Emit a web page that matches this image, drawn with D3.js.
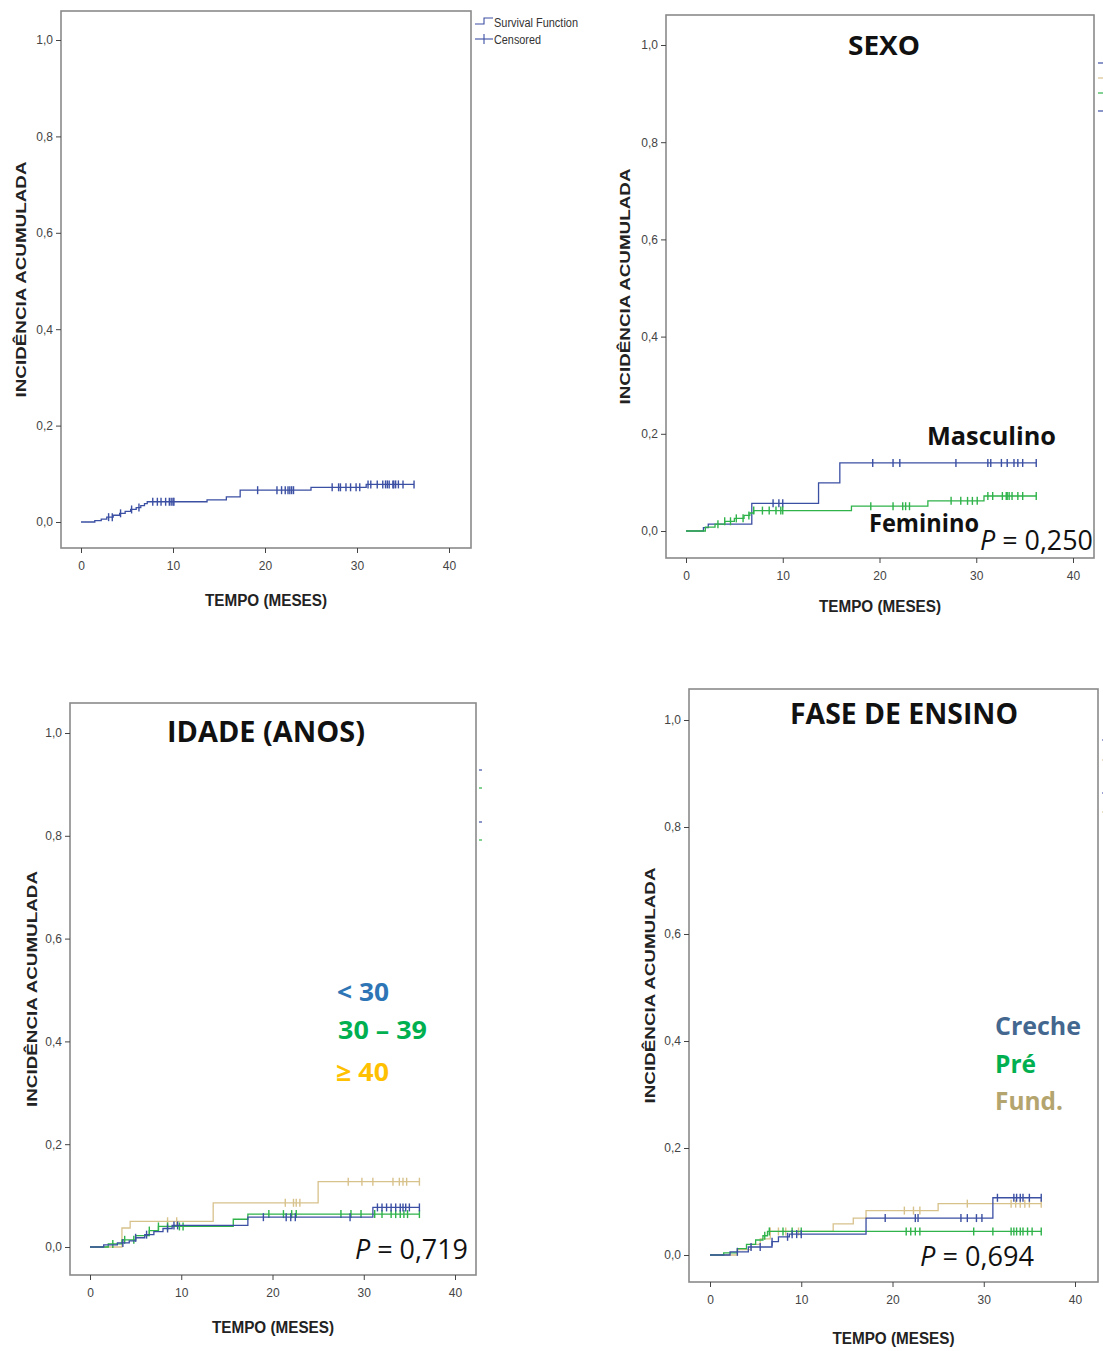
<!DOCTYPE html>
<html>
<head>
<meta charset="utf-8">
<script src="https://cdn.jsdelivr.net/npm/d3@7"></script>
<style>
  body { margin: 0; background: white; }
</style>
</head>
<body>
<div id="container"></div>
<script>
// ---- data ----
let xTicks = [0, 10, 20, 30, 40];
let yTicks = [0, 0.2, 0.4, 0.6, 0.8, 1.0];

// overall curve
let allSteps = [[0,0],[1.5,0.003],[2.2,0.006],[2.8,0.010],[3.5,0.014],[4.2,0.018],[4.8,0.022],[5.4,0.026],[6.0,0.030],[6.5,0.034],[6.9,0.038],[7.2,0.042],[13.7,0.046],[15.8,0.052],[17.3,0.066],[25.0,0.072],[31.0,0.078]];
let allEnd = 36.2;
let allCens = [3.0,3.4,4.3,5.5,6.3,7.8,8.3,8.7,9.2,9.6,9.8,10.0,10.1,19.2,21.3,21.8,22.2,22.5,22.7,22.9,23.1,27.3,28.0,28.2,28.8,29.3,29.9,30.3,31.2,31.5,32.2,32.8,33.1,33.3,33.5,33.9,34.0,34.2,34.5,35.0,36.2];

// sexo
let mascSteps = [[0,0],[1.8,0.007],[2.3,0.014],[6.8,0.057],[13.7,0.099],[15.9,0.140]];
let mascCens = [9.0,9.6,10.0,19.3,21.4,22.1,27.9,31.2,31.5,32.6,33.2,33.9,34.3,34.8,36.2];
let femSteps = [[0,0],[2.0,0.008],[3.0,0.014],[4.0,0.020],[5.0,0.026],[6.0,0.032],[6.6,0.037],[7.0,0.042],[17.1,0.051],[25.0,0.062],[30.8,0.072]];
let femCens = [3.3,4.0,4.6,5.2,5.9,6.5,7.0,7.9,8.6,9.3,9.8,10.0,19.1,21.4,22.4,22.7,23.1,27.4,28.4,29.1,29.6,30.1,31.2,31.7,32.7,33.1,33.2,33.4,33.7,34.3,34.8,36.2];
let sexoEnd = 36.2;

// idade
let ageLt30Steps = [[0,0],[1.5,0.004],[3.0,0.008],[4.3,0.012],[5.0,0.018],[6.0,0.024],[7.0,0.030],[8.0,0.036],[9.0,0.042],[17.3,0.058],[31.0,0.077]];
let ageLt30Cens = [3.6,5.0,6.2,8.5,9.2,9.6,19.0,21.5,22.0,22.5,28.5,31.5,32.0,32.5,33.0,33.5,34.0,34.3,34.6,35.0,36.1];
let age3039Steps = [[0,0],[2.0,0.006],[3.5,0.014],[5.0,0.022],[6.5,0.032],[7.5,0.040],[15.7,0.054],[17.3,0.064]];
let age3039Cens = [2.5,3.8,4.8,6.5,7.5,8.5,9.8,10.2,19.6,21.2,22.1,22.6,27.5,28.6,29.7,31.2,32.0,33.0,33.5,34.0,34.4,34.8,36.1];
let age40Steps = [[0,0],[3.5,0.037],[4.4,0.050],[13.5,0.086],[25.0,0.127]];
let age40Cens = [8.5,9.5,21.4,22.3,22.6,23.0,28.3,29.8,31.0,33.2,33.9,34.3,34.7,36.1];
let idadeEnd = 36.1;

// fase de ensino
let crecheSteps = [[0,0],[2.2,0.006],[4.2,0.015],[6.8,0.025],[7.5,0.034],[8.7,0.039],[17.1,0.069],[31.0,0.107]];
let crecheCens = [3.0,4.5,5.5,6.8,8.5,9.0,9.5,10.0,19.2,22.5,22.8,27.5,28.2,29.2,29.8,31.5,33.3,33.6,34.0,34.3,35.0,36.3];
let preSteps = [[0,0],[1.5,0.004],[3.0,0.012],[4.0,0.020],[5.0,0.028],[5.8,0.036],[6.3,0.044]];
let preCens = [6.0,6.5,8.0,9.0,10.0,21.5,22.0,22.5,23.0,28.9,31.0,33.0,33.3,33.6,34.0,34.3,34.8,35.3,36.3];
let fundSteps = [[0,0],[3.0,0.010],[4.5,0.020],[5.5,0.030],[6.6,0.044],[13.5,0.058],[15.7,0.069],[17.1,0.083],[25.0,0.096]];
let fundCens = [6.6,7.5,8.3,9.7,21.3,22.3,23.0,28.2,33.0,33.5,34.0,34.5,35.0,36.3];
let faseEnd = 36.3;

// ---- drawing ----
let w = 1103;
let h = 1351;

let blue = "#3b4fa3";
let green = "#2fb34a";
let tan = "#d8c28c";

let viz = d3.select("#container")
  .append("svg")
    .attr("width", w)
    .attr("height", h)
;

let axisFont = "'Liberation Sans Narrow', 'Liberation Sans', Arial, sans-serif";
let bigFont = "'Open Sans', 'Noto Sans', sans-serif";

function stepValue(steps, t){
  let v = 0;
  for(let i = 0; i < steps.length; i++){
    if(steps[i][0] <= t){ v = steps[i][1]; }
  }
  return v;
}

function drawPanel(p){
  let g = viz.append("g");
  let xScale = d3.scaleLinear().domain([0, 40]).range(p.xr);
  let yScale = d3.scaleLinear().domain([0, 1]).range(p.yr);
  let f = p.frame;

  // frame
  g.append("rect")
    .attr("x", f.l).attr("y", f.t)
    .attr("width", f.r - f.l).attr("height", f.b - f.t)
    .attr("fill", "none")
    .attr("stroke", "#8a8a8a")
    .attr("stroke-width", 1.6)
  ;

  // axes
  let xAxis = d3.axisBottom(xScale).tickValues(xTicks).tickSize(5).tickSizeOuter(0);
  let xg = g.append("g").attr("transform", "translate(0," + f.b + ")").call(xAxis);
  xg.select(".domain").remove();
  xg.selectAll("line").attr("stroke", "#444");
  xg.selectAll("text").attr("font-family", axisFont).attr("font-size", 12).attr("fill", "#444").attr("dy", "1.2em");

  let yAxis = d3.axisLeft(yScale).tickValues(yTicks).tickSize(5).tickSizeOuter(0)
    .tickFormat(function(d){ return d3.format(".1f")(d).replace(".", ","); });
  let yg = g.append("g").attr("transform", "translate(" + f.l + ",0)").call(yAxis);
  yg.select(".domain").remove();
  yg.selectAll("line").attr("stroke", "#444");
  yg.selectAll("text").attr("font-family", axisFont).attr("font-size", 12).attr("fill", "#444");

  g.append("text")
    .text("TEMPO (MESES)")
    .attr("x", (f.l + f.r) / 2)
    .attr("y", f.b + p.xTitleDy)
    .attr("text-anchor", "middle")
    .attr("font-family", axisFont)
    .attr("font-weight", "bold")
    .attr("font-size", 16)
    .attr("fill", "#222")
    .attr("textLength", 122)
    .attr("lengthAdjust", "spacingAndGlyphs")
  ;

  g.append("text")
    .text("INCIDÊNCIA ACUMULADA")
    .attr("transform", "translate(" + (f.l - p.yTitleDx) + "," + ((f.t + f.b) / 2) + ") rotate(-90)")
    .attr("text-anchor", "middle")
    .attr("font-family", "'Liberation Sans', Arial, sans-serif")
    .attr("font-weight", "bold")
    .attr("font-size", 14)
    .attr("fill", "#222")
    .attr("textLength", 236)
    .attr("lengthAdjust", "spacingAndGlyphs")
  ;

  // curves
  let line = d3.line()
    .x(function(d){ return xScale(d[0]); })
    .y(function(d){ return yScale(d[1]); })
    .curve(d3.curveStepAfter)
  ;

  p.series.forEach(function(s){
    let pts = s.steps.concat([[s.end, s.steps[s.steps.length - 1][1]]]);
    g.append("path")
      .attr("d", line(pts))
      .attr("fill", "none")
      .attr("stroke", s.color)
      .attr("stroke-width", 1.3)
    ;
    g.selectAll(null)
      .data(s.cens)
      .enter()
      .append("line")
        .attr("x1", function(d){ return xScale(d); })
        .attr("x2", function(d){ return xScale(d); })
        .attr("y1", function(d){ return yScale(stepValue(s.steps, d)) - 4; })
        .attr("y2", function(d){ return yScale(stepValue(s.steps, d)) + 4; })
        .attr("stroke", s.color)
        .attr("stroke-width", 1.4)
    ;
  });

  return g;
}

function bigText(g, txt, x, y, size, len, color, weight){
  return g.append("text")
    .text(txt)
    .attr("x", x).attr("y", y)
    .attr("font-family", bigFont)
    .attr("font-weight", weight)
    .attr("font-size", size)
    .attr("fill", color)
    .attr("textLength", len)
    .attr("lengthAdjust", "spacingAndGlyphs")
  ;
}

function pValue(g, val, x, y, len){
  let t = g.append("text")
    .attr("x", x).attr("y", y)
    .attr("font-family", bigFont)
    .attr("font-size", 27)
    .attr("fill", "#111")
    .attr("textLength", len)
    .attr("lengthAdjust", "spacingAndGlyphs")
  ;
  t.append("tspan").attr("font-style", "italic").text("P");
  t.append("tspan").text(" = " + val);
}

// cropped legend fragments at the right edge of the panels
function legendBits(ys, colors, x, clipW, id){
  viz.append("clipPath").attr("id", id)
    .append("rect").attr("x", x).attr("y", 0).attr("width", clipW).attr("height", h);
  let lg = viz.append("g").attr("clip-path", "url(#" + id + ")");
  ys.forEach(function(y, i){
    lg.append("line")
      .attr("x1", x + 2).attr("x2", x + 30)
      .attr("y1", y).attr("y2", y)
      .attr("stroke", colors[i])
      .attr("stroke-width", 1.2)
    ;
  });
}

// panel 1 - overall
let g1 = drawPanel({
  frame: {l: 61, t: 11, r: 471, b: 548},
  xr: [81, 449], yr: [522, 40],
  xTitleDy: 58, yTitleDx: 35,
  series: [{steps: allSteps, end: allEnd, cens: allCens, color: blue}]
});

// legend of panel 1
g1.append("path")
  .attr("d", "M475,24 H484 V18 H493")
  .attr("fill", "none").attr("stroke", blue).attr("stroke-width", 1.1);
g1.append("line")
  .attr("x1", 475).attr("x2", 493).attr("y1", 39).attr("y2", 39)
  .attr("stroke", blue).attr("stroke-width", 1.1);
g1.append("line")
  .attr("x1", 484).attr("x2", 484).attr("y1", 34).attr("y2", 44)
  .attr("stroke", blue).attr("stroke-width", 1.1);
g1.append("text").text("Survival Function")
  .attr("x", 494).attr("y", 27)
  .attr("font-family", axisFont).attr("font-size", 12).attr("fill", "#333")
  .attr("textLength", 84).attr("lengthAdjust", "spacingAndGlyphs");
g1.append("text").text("Censored")
  .attr("x", 494).attr("y", 44)
  .attr("font-family", axisFont).attr("font-size", 12).attr("fill", "#333")
  .attr("textLength", 47).attr("lengthAdjust", "spacingAndGlyphs");

// panel 2 - sexo
let g2 = drawPanel({
  frame: {l: 666, t: 15, r: 1094, b: 558},
  xr: [686, 1073], yr: [531, 45],
  xTitleDy: 54, yTitleDx: 36,
  series: [
    {steps: mascSteps, end: sexoEnd, cens: mascCens, color: blue},
    {steps: femSteps, end: sexoEnd, cens: femCens, color: green}
  ]
});
bigText(g2, "SEXO", 848, 55, 27, 72, "#111", "bold");
bigText(g2, "Masculino", 927, 445, 25, 129, "#111", "bold");
bigText(g2, "Feminino", 869, 532, 25, 110, "#111", "bold");
pValue(g2, "0,250", 980, 550, 113);
legendBits([63, 78, 93, 111], [blue, tan, green, blue], 1096, 10, "clip2");

// panel 3 - idade
let g3 = drawPanel({
  frame: {l: 70, t: 703, r: 476, b: 1275},
  xr: [90, 455], yr: [1247, 733],
  xTitleDy: 58, yTitleDx: 33,
  series: [
    {steps: age40Steps, end: idadeEnd, cens: age40Cens, color: tan},
    {steps: age3039Steps, end: idadeEnd, cens: age3039Cens, color: green},
    {steps: ageLt30Steps, end: idadeEnd, cens: ageLt30Cens, color: blue}
  ]
});
bigText(g3, "IDADE (ANOS)", 167, 742, 28, 198, "#111", "bold");
bigText(g3, "< 30", 337, 1001, 25, 52, "#2e75b6", "bold");
bigText(g3, "30 – 39", 338, 1039, 25, 89, "#00b050", "bold");
bigText(g3, "≥ 40", 336, 1081, 25, 53, "#ffc000", "bold");
pValue(g3, "0,719", 355, 1259, 113);
legendBits([770, 788, 822, 840], [blue, green, blue, green], 477, 5, "clip3");

// panel 4 - fase de ensino
let g4 = drawPanel({
  frame: {l: 689, t: 689, r: 1098, b: 1282},
  xr: [710, 1075], yr: [1255, 720],
  xTitleDy: 62, yTitleDx: 34,
  series: [
    {steps: fundSteps, end: faseEnd, cens: fundCens, color: tan},
    {steps: preSteps, end: faseEnd, cens: preCens, color: green},
    {steps: crecheSteps, end: faseEnd, cens: crecheCens, color: blue}
  ]
});
bigText(g4, "FASE DE ENSINO", 790, 724, 28, 228, "#111", "bold");
bigText(g4, "Creche", 995, 1035, 25, 86, "#44678f", "bold");
bigText(g4, "Pré", 995, 1073, 25, 41, "#00b050", "bold");
bigText(g4, "Fund.", 995, 1110, 25, 68, "#b4a46e", "bold");
pValue(g4, "0,694", 920, 1266, 114);
legendBits([740, 760, 793, 812], [blue, tan, blue, tan], 1100, 5, "clip4");
</script>
</body>
</html>
